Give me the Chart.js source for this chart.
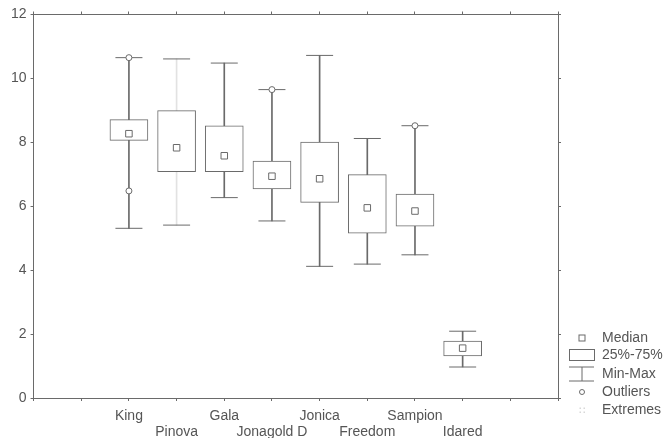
<!DOCTYPE html>
<html>
<head>
<meta charset="utf-8">
<title>Box plot</title>
<script src="https://cdn.jsdelivr.net/npm/chart.js@4.4.1/dist/chart.umd.min.js"></script>
<style>
  html, body { margin: 0; padding: 0; background: #fff; }
  #wrap { width: 663px; height: 438px; position: relative; }
</style>
</head>
<body>
<div id="wrap"><canvas id="box"></canvas></div>
<script>
// values
const varieties = ['King', 'Pinova', 'Gala', 'Jonagold D', 'Jonica', 'Freedom', 'Sampion', 'Idared'];
const minVals    = [5.31, 5.41, 6.27, 5.54, 4.12, 4.19, 4.48, 0.97];
const q1Vals     = [8.06, 7.08, 7.08, 6.54, 6.12, 5.16, 5.38, 1.32];
const medianVals = [8.27, 7.83, 7.58, 6.94, 6.86, 5.95, 5.85, 1.56];
const q3Vals     = [8.71, 8.99, 8.52, 7.41, 8.01, 6.99, 6.38, 1.78];
const maxVals    = [10.65, 10.61, 10.48, 9.65, 10.72, 8.12, 8.52, 2.09];
const outliers   = [['King', 10.65], ['King', 6.48], ['Jonagold D', 9.65], ['Sampion', 8.52]];
const yTicks     = [0, 2, 4, 6, 8, 10, 12];
const legendLabels = ['Median', '25%-75%', 'Min-Max', 'Outliers', 'Extremes'];

// two empty slots on each side of the varieties
const labels = ['', ''].concat(varieties, ['', '']);
const pad = arr => [null, null].concat(arr, [null, null]);

const INK = '#6a6a6a';
const TEXT = '#555';
const FONT = { family: '"Liberation Sans", Arial, sans-serif', size: 14 };

// legend in the right margin, drawn by hand like the original
const sideLegend = {
    id: 'sideLegend',
    afterDraw(chart) {
        const { ctx, chartArea } = chart;
        const cx = chartArea.right + 24;
        const tx = chartArea.right + 44;
        const rows = [-60, -43, -24, -6, 12].map(d => chartArea.bottom + d);
        ctx.save();
        ctx.strokeStyle = INK;
        ctx.lineWidth = 1;
        // median square
        ctx.strokeRect(cx - 3, rows[0] - 3, 6, 6);
        // box
        ctx.strokeRect(cx - 12.5, rows[1] - 5.5, 25, 11);
        // whisker
        ctx.beginPath();
        ctx.moveTo(cx - 13, rows[2] - 7); ctx.lineTo(cx + 12, rows[2] - 7);
        ctx.moveTo(cx, rows[2] - 7); ctx.lineTo(cx, rows[2] + 7);
        ctx.moveTo(cx - 13, rows[2] + 7); ctx.lineTo(cx + 12, rows[2] + 7);
        ctx.stroke();
        // outlier circle
        ctx.beginPath();
        ctx.arc(cx, rows[3], 2.5, 0, Math.PI * 2);
        ctx.stroke();
        // extremes (faint dots)
        ctx.fillStyle = '#d8d8d8';
        [[-2, -2], [2, -2], [-2, 2], [2, 2]].forEach(([dx, dy]) => ctx.fillRect(cx + dx - 0.5, rows[4] + dy - 0.5, 1.5, 1.5));

        ctx.fillStyle = TEXT;
        ctx.font = `${FONT.size}px ${FONT.family}`;
        ctx.textBaseline = 'middle';
        ctx.textAlign = 'left';
        legendLabels.forEach((t, i) => ctx.fillText(t, tx, rows[i]));
        ctx.restore();
    }
};

new Chart(document.getElementById('box'), {
    type: 'bar',
    data: {
        labels: labels,
        datasets: [
            {
                label: 'Min-Max',
                data: pad(varieties.map((v, i) => [minVals[i], maxVals[i]])),
                backgroundColor: ctx => ctx.dataIndex === 3 ? '#e2e2e2' : INK,
                borderWidth: 0,
                barThickness: 1,
                grouped: false,
                order: 3
            },
            {
                label: '25%-75%',
                data: pad(varieties.map((v, i) => [q1Vals[i], q3Vals[i]])),
                backgroundColor: '#fff',
                borderColor: INK,
                borderWidth: 1,
                borderSkipped: false,
                barThickness: 38,
                grouped: false,
                order: 2
            },
            {
                type: 'line',
                label: 'max',
                data: pad(maxVals),
                showLine: false,
                pointStyle: 'line',
                pointRadius: 13.5,
                borderColor: INK,
                borderWidth: 1,
                order: 1
            },
            {
                type: 'line',
                label: 'min',
                data: pad(minVals),
                showLine: false,
                pointStyle: 'line',
                pointRadius: 13.5,
                borderColor: INK,
                borderWidth: 1,
                order: 1
            },
            {
                type: 'line',
                label: 'Median',
                data: pad(medianVals),
                showLine: false,
                pointStyle: 'rect',
                pointRadius: 4.6,
                pointBackgroundColor: '#fff',
                pointBorderColor: INK,
                pointBorderWidth: 1,
                order: 0
            },
            {
                type: 'line',
                label: 'Outliers',
                data: outliers.map(([name, v]) => ({ x: name, y: v })),
                showLine: false,
                pointStyle: 'circle',
                pointRadius: 3,
                pointBackgroundColor: '#fff',
                pointBorderColor: INK,
                pointBorderWidth: 1,
                order: 0
            }
        ]
    },
    options: {
        responsive: true,
        maintainAspectRatio: false,
        animation: false,
        layout: { padding: { left: 7, top: 9, right: 102, bottom: 0 } },
        plugins: {
            legend: { display: false },
            tooltip: { enabled: false }
        },
        scales: {
            x: {
                type: 'category',
                offset: false,
                // keep the axis low; the name rows fill the strip below it
                afterFit: axis => { axis.height = 40; },
                grid: { offset: false, drawOnChartArea: false, tickLength: 3, color: INK },
                border: { color: INK },
                ticks: {
                    autoSkip: false,
                    maxRotation: 0,
                    minRotation: 0,
                    padding: 7,
                    color: TEXT,
                    font: { ...FONT, lineHeight: 1.15 },
                    // stagger the names on two rows
                    callback: function (value, index) {
                        const label = this.getLabelForValue(value);
                        return index % 2 ? ['', label] : label;
                    }
                }
            },
            xTop: {
                type: 'category',
                position: 'top',
                offset: false,
                grid: { offset: false, drawOnChartArea: false, tickLength: 3, color: INK },
                border: { color: INK },
                ticks: { display: false }
            },
            y: {
                min: 0,
                max: 12,
                afterBuildTicks: axis => { axis.ticks = yTicks.map(v => ({ value: v })); },
                grid: { drawOnChartArea: false, tickLength: 3, color: INK },
                border: { color: INK },
                ticks: { padding: 4, color: TEXT, font: FONT }
            },
            yRight: {
                position: 'right',
                min: 0,
                max: 12,
                afterBuildTicks: axis => { axis.ticks = yTicks.map(v => ({ value: v })); },
                grid: { drawOnChartArea: false, tickLength: 3, color: INK },
                border: { color: INK },
                ticks: { display: false }
            }
        }
    },
    plugins: [sideLegend]
});
</script>
</body>
</html>
